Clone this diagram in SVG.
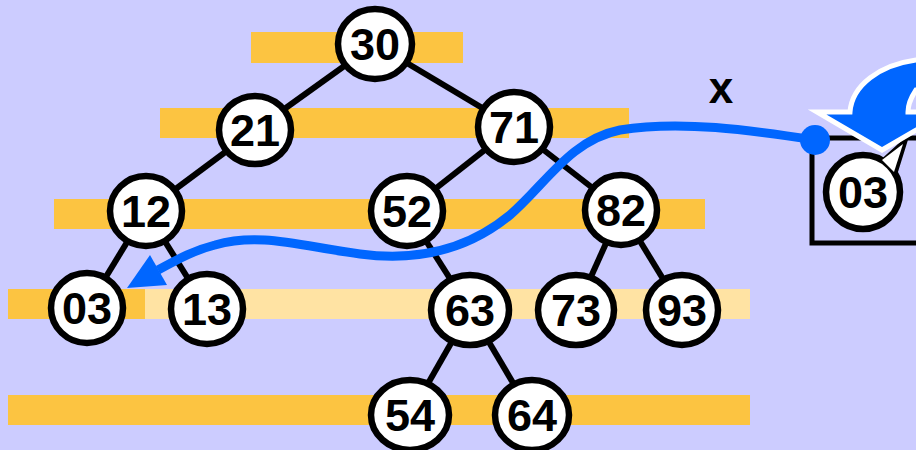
<svg xmlns="http://www.w3.org/2000/svg" width="916" height="450" viewBox="0 0 916 450">
<style>
.bar{fill:#FCC441}
.bar2{fill:#FFE3A3}
.edge{stroke:#000;stroke-width:6;fill:none}
.node ellipse{fill:#fff;stroke:#000;stroke-width:6.5}
.node text{font-family:"Liberation Sans",Arial,sans-serif;font-weight:bold;font-size:45px;text-anchor:middle;fill:#000}
</style>
<rect width="916" height="450" fill="#CCCCFF"/>
<g id="bars">
<rect class="bar" x="251" y="32" width="212" height="31"/>
<rect class="bar" x="160" y="108" width="469" height="30"/>
<rect class="bar" x="54" y="199" width="651" height="30"/>
<rect class="bar2" x="145" y="289" width="605" height="30"/>
<rect class="bar" x="8" y="289" width="137" height="30"/>
<rect class="bar" x="8" y="395" width="742" height="30"/>
</g>
<g id="edges" class="edge">
<line x1="375" y1="44" x2="255" y2="130"/>
<line x1="375" y1="44" x2="514" y2="127"/>
<line x1="255" y1="130" x2="146" y2="211"/>
<line x1="514" y1="127" x2="407" y2="211"/>
<line x1="514" y1="127" x2="621" y2="210"/>
<line x1="146" y1="211" x2="87" y2="308"/>
<line x1="146" y1="211" x2="207" y2="309"/>
<line x1="407" y1="211" x2="470" y2="310"/>
<line x1="621" y1="210" x2="576" y2="310"/>
<line x1="621" y1="210" x2="682" y2="310"/>
<line x1="470" y1="310" x2="410" y2="415"/>
<line x1="470" y1="310" x2="532" y2="415"/>
</g>
<g id="n30" class="node"><ellipse cx="375" cy="44" rx="37" ry="35"/><text x="375" y="60">30</text></g>
<g id="n21" class="node"><ellipse cx="255" cy="130" rx="36" ry="34"/><text x="255" y="146">21</text></g>
<g id="n71" class="node"><ellipse cx="514" cy="127" rx="36" ry="35"/><text x="514" y="143">71</text></g>
<g id="n12" class="node"><ellipse cx="146" cy="211" rx="36" ry="35"/><text x="146" y="227">12</text></g>
<g id="n52" class="node"><ellipse cx="407" cy="211" rx="36" ry="35"/><text x="407" y="227">52</text></g>
<g id="n82" class="node"><ellipse cx="621" cy="210" rx="36" ry="35"/><text x="621" y="226">82</text></g>
<g id="n03" class="node"><ellipse cx="87" cy="308" rx="36" ry="35"/><text x="87" y="324">03</text></g>
<g id="n13" class="node"><ellipse cx="207" cy="309" rx="36" ry="35"/><text x="207" y="325">13</text></g>
<g id="n63" class="node"><ellipse cx="470" cy="310" rx="39" ry="35"/><text x="470" y="326">63</text></g>
<g id="n73" class="node"><ellipse cx="576" cy="310" rx="38" ry="35"/><text x="576" y="326">73</text></g>
<g id="n93" class="node"><ellipse cx="682" cy="310" rx="36" ry="35"/><text x="682" y="326">93</text></g>
<g id="n54" class="node"><ellipse cx="410" cy="415" rx="39" ry="35"/><text x="410" y="431">54</text></g>
<g id="n64" class="node"><ellipse cx="532" cy="415" rx="37" ry="35"/><text x="532" y="431">64</text></g>
<g id="box">
<rect x="812" y="138" width="120" height="105" fill="none" stroke="#000" stroke-width="5"/>
</g>
<g id="nx" class="node">
<path d="M884 160 L905 141 L896 170 Z" fill="#fff" stroke="#000" stroke-width="5" stroke-linejoin="miter"/>
<ellipse cx="863" cy="192" rx="37" ry="37"/>
<path d="M882 160 L903 144 L894 172 Z" fill="#fff"/>
<text x="863" y="208">03</text>
</g>
<g id="bigarrow">
<path d="M850 112 C852 85 880 65 916 60 L930 60 L930 90 L916 90 C912 96 908 104 908 112 L947 112 L882 150 L817 112 Z" fill="#0066FF" stroke="#fff" stroke-width="5" stroke-linejoin="miter"/>
</g>
<g id="connector">
<path d="M815 140 C750 130 680 120 620 130 C570 140 545 185 510 215 C470 248 420 262 360 254 C300 246 260 232 215 245 C195 250 180 258 158 270" fill="none" stroke="#0066FF" stroke-width="9"/>
<polygon points="127,288 150,255 167,285" fill="#0066FF"/>
<circle cx="815" cy="140" r="15" fill="#0066FF"/>
</g>
<text x="721" y="103" font-family="Liberation Sans,Arial,sans-serif" font-weight="bold" font-size="44" text-anchor="middle">x</text>
</svg>
